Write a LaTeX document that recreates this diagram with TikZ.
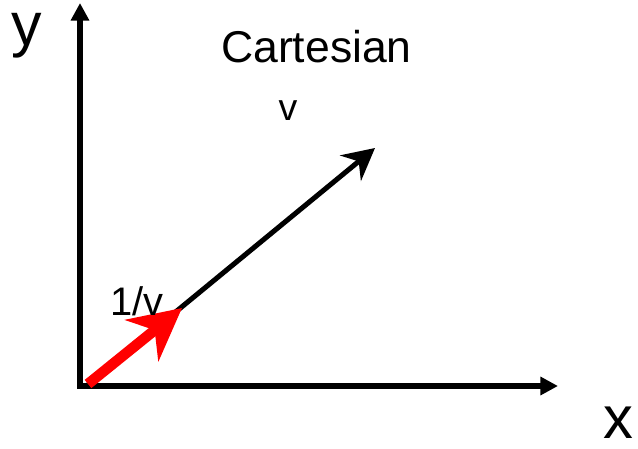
\documentclass[tikz,border=0pt]{standalone}
\usepackage{fontspec}
\setmainfont{Liberation Sans}
\usetikzlibrary{arrows.meta}
\definecolor{axiscol}{HTML}{000000}
\definecolor{redcol}{HTML}{FF0000}

\begin{document}
\begin{tikzpicture}[x=0.03cm,y=-0.03cm,
  axis/.style={line width=4.3pt,draw=axiscol,{Triangle[length=15pt,width=15pt]}-{Triangle[length=15pt,width=15pt]}},
  vec/.style={line width=4.3pt,-{Stealth[length=27pt,width=28pt,inset=9pt]}},
  inv/.style={line width=9pt,draw=redcol,-{Stealth[length=44pt,width=45pt,inset=14pt]}},
  lbl/.style={inner sep=0pt,anchor=base}]
  \useasboundingbox (0,0) rectangle (638,449);
  % axes
  \coordinate (ytop) at (80,3);
  \coordinate (O) at (80,386);
  \coordinate (xend) at (558,386);
  \draw[axis] (ytop) -- (O) -- (xend);
  \node[lbl,text height=0.55em,font=\fontsize{52}{55}\selectfont] (ylab) at (27,45) {y};
  \node[lbl,font=\fontsize{51}{55}\selectfont] (xlab) at (618,438) {x};
  % vectors
  \coordinate (s) at (88,384);
  \coordinate (h) at (182,308);
  \coordinate (v) at (375,148);
  \draw[vec] (s) -- (v);
  \draw[inv] (s) -- (h);
  \node[lbl,anchor=base west,font=\fontsize{38}{42}\selectfont] (title) at (221,62) {Cartesian};
  \node[lbl,font=\fontsize{32}{36}\selectfont] (vlab) at (288,120) {v};
  \node[lbl,anchor=base west,font=\fontsize{34}{38}\selectfont] (invlab) at (110,315) {1/v};
\end{tikzpicture}
\end{document}
